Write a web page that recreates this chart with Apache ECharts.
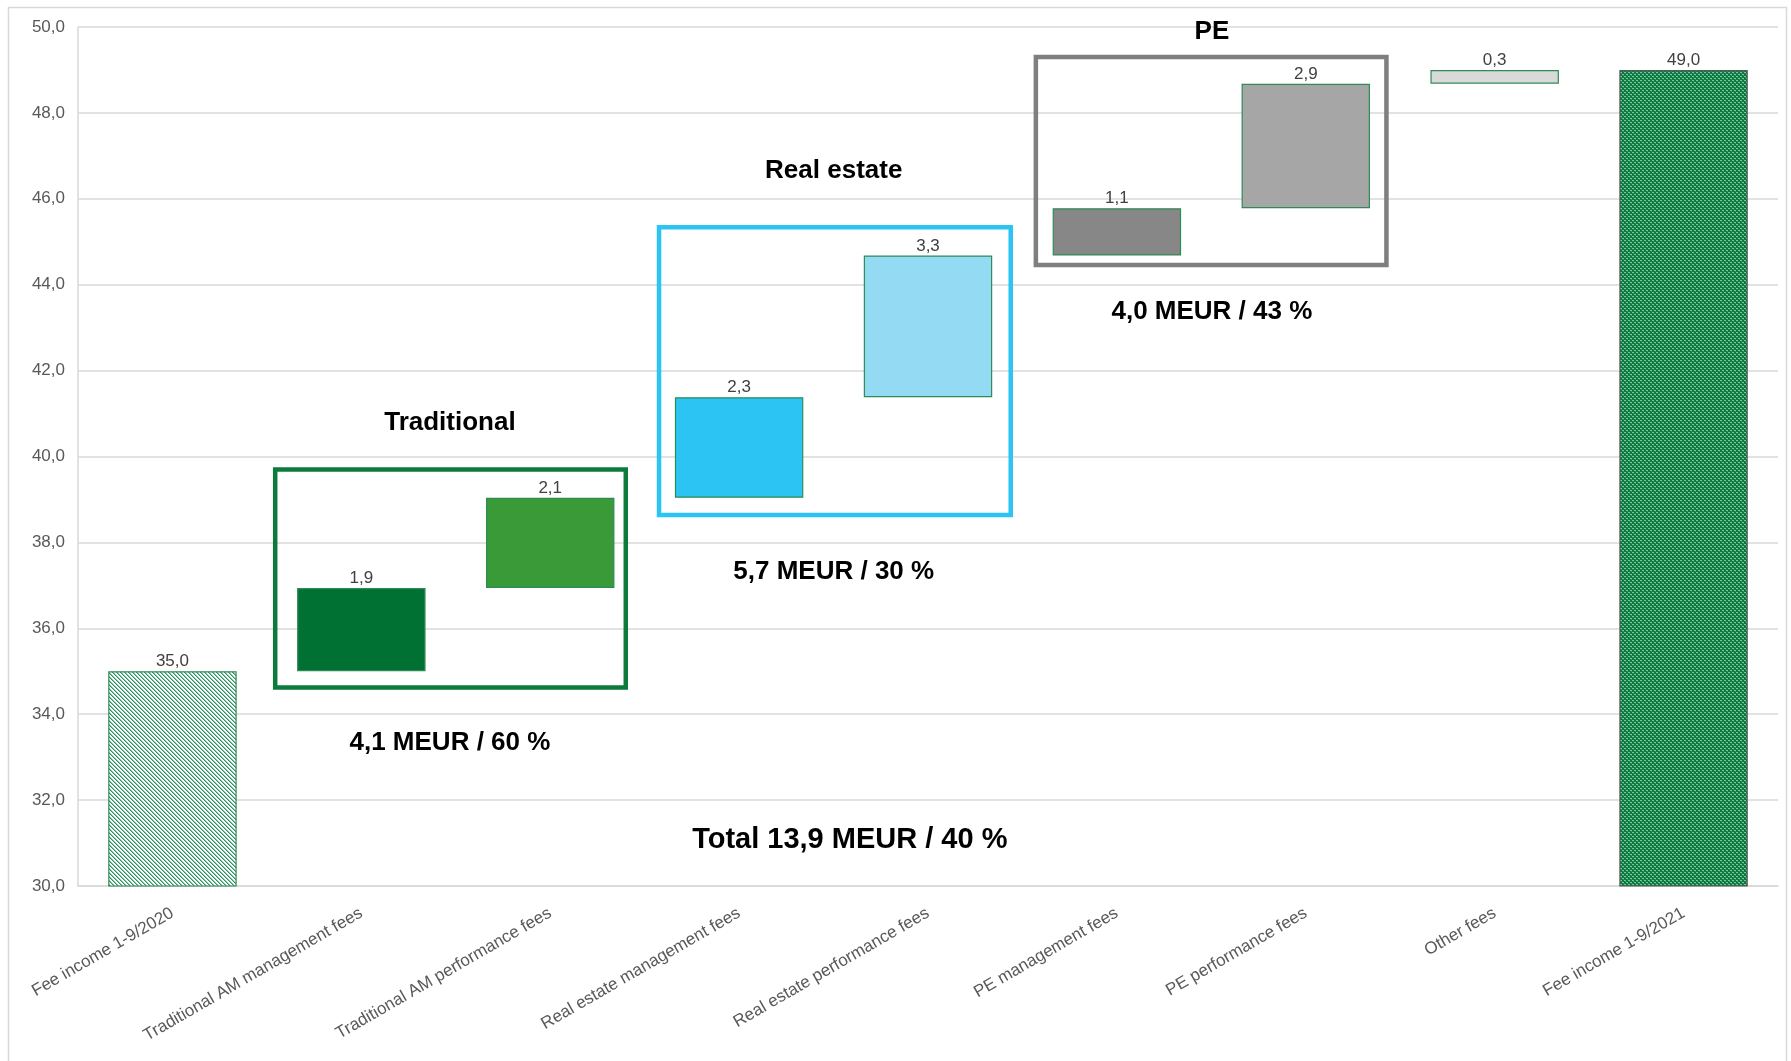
<!DOCTYPE html>
<html>
<head>
<meta charset="utf-8">
<script src="https://cdn.jsdelivr.net/npm/echarts@6/dist/echarts.min.js"></script>
<style>
html,body{margin:0;padding:0;background:#fff;}
#chart{width:1791px;height:1061px;}
</style>
</head>
<body>
<div id="chart"></div>
<script>
// ---- data ----
var categories = ["Fee income 1-9/2020","Traditional AM management fees","Traditional AM performance fees","Real estate management fees","Real estate performance fees","PE management fees","PE performance fees","Other fees","Fee income 1-9/2021"];
var startValue = 35.0;
var changes = [1.94, 2.10, 2.34, 3.30, 1.10, 2.90, 0.32];
var endValue = 49.0;
var barColors = ["pattern2020","#007033","#3A9A38","#2BC4F3","#94DAF3","#878787","#A6A6A6","#D9D9D9","pattern2021"];
var yTicks = {min:30, max:50, interval:2};
// group boxes: [x0, x1, yTop, yBottom] on a 0..9 category scale
var boxNames = ["Traditional","Real estate","PE"];
var boxRanges = [[1.044,2.900,39.70,34.62],[3.076,4.938,45.34,38.64],[5.071,6.927,49.30,44.46]];
var boxColors = ["#0B7A3B","#2BC4F3","#7F7F7F"];
var groupTitlePos = [[1.969,40.79],[4.001,46.64],[6.003,49.88]];
var groupSummaries = ["4,1 MEUR / 60 %","5,7 MEUR / 30 %","4,0 MEUR / 43 %"];
var groupSummaryPos = [[1.969,33.34],[4.001,37.31],[6.003,43.37]];
var totalText = "Total 13,9 MEUR / 40 %";
var totalPos = [4.086,31.08];

// ---- patterns ----
function makeDiag(){
  var c=document.createElement('canvas');c.width=4;c.height=4;
  var g=c.getContext('2d');
  g.fillStyle='#ffffff';g.fillRect(0,0,4,4);
  g.fillStyle='#2E9160';
  for(var i=0;i<4;i++){g.fillRect(i,i,1,1);}
  g.fillStyle='#8CC7A8';
  for(var j=0;j<4;j++){g.fillRect((j+1)%4,j,1,1);}
  return c;
}
function makeDots(){
  var c=document.createElement('canvas');c.width=4;c.height=4;
  var g=c.getContext('2d');
  g.fillStyle='#0A7A40';g.fillRect(0,0,4,4);
  g.fillStyle='#7FC39C';
  g.fillRect(0,0,2,1);g.fillRect(2,2,2,1);
  g.fillStyle='#2E9160';
  g.fillRect(1,1,1,1);g.fillRect(3,3,1,1);
  return c;
}
var patterns = {
  pattern2020:{image:makeDiag(),repeat:'repeat'},
  pattern2021:{image:makeDots(),repeat:'repeat'}
};

// ---- build waterfall ----
var baseData=[0], valData=[startValue], labelVals=[startValue];
var cum=startValue;
changes.forEach(function(d){baseData.push(cum);valData.push(d);labelVals.push(d);cum+=d;});
baseData.push(0);valData.push(endValue);labelVals.push(endValue);

function fmt(v){return v.toFixed(1).replace('.',',');}

var visible = valData.map(function(v,i){
  var col = barColors[i];
  var fill = patterns[col] ? patterns[col] : col;
  return {value:v, itemStyle:{color:fill, borderColor: i===8 ? '#5A5A5A' : '#2E8B57', borderWidth:1.2}};
});

var FONT = '"Liberation Sans", Arial, sans-serif';

var annotations = [];
boxNames.forEach(function(n,i){annotations.push({type:'box',r:boxRanges[i],c:boxColors[i]});});
boxNames.forEach(function(n,i){annotations.push({type:'text',t:n,p:groupTitlePos[i],s:26});});
groupSummaries.forEach(function(n,i){annotations.push({type:'text',t:n,p:groupSummaryPos[i],s:26});});
annotations.push({type:'text',t:totalText,p:totalPos,s:29});

var chart = echarts.init(document.getElementById('chart'),null,{renderer:'canvas'});
chart.setOption({
  animation:false,
  backgroundColor:'#ffffff',
  graphic:[{type:'rect',shape:{x:8.5,y:7.5,width:1778,height:1060},style:{fill:'none',stroke:'#D9D9D9',lineWidth:1.5},silent:true,z:-10}],
  grid:{left:78,right:13,top:27,bottom:175,containLabel:false},
  xAxis:[{
    type:'category',data:categories,
    axisLine:{show:true,lineStyle:{color:'#D9D9D9',width:1.5}},
    axisTick:{show:false},
    axisLabel:{rotate:30,interval:0,margin:26,color:'#595959',fontSize:17,fontFamily:FONT}
  },{
    type:'value',min:0,max:9,show:false
  }],
  yAxis:{
    type:'value',min:yTicks.min,max:yTicks.max,interval:yTicks.interval,
    axisLine:{show:true,lineStyle:{color:'#D9D9D9',width:1.5}},
    axisTick:{show:false},
    splitLine:{show:true,lineStyle:{color:'#D9D9D9',width:1.5}},
    axisLabel:{margin:13,color:'#595959',fontSize:17,fontFamily:FONT,formatter:function(v){return fmt(v);}}
  },
  series:[{
    type:'bar',stack:'wf',data:baseData,barCategoryGap:'32%',
    itemStyle:{color:'transparent',borderWidth:0},silent:true
  },{
    type:'bar',stack:'wf',data:visible,barCategoryGap:'32%',
    label:{show:true,position:'top',distance:1,color:'#404040',fontSize:17,fontFamily:FONT,
      formatter:function(p){return fmt(labelVals[p.dataIndex]);}}
  },{
    type:'custom',xAxisIndex:1,yAxisIndex:0,clip:false,z:10,
    data:annotations.map(function(a,i){return [i];}),
    renderItem:function(params,api){
      var a=annotations[params.dataIndex];
      if(a.type==='box'){
        var p0=api.coord([a.r[0],a.r[2]]), p1=api.coord([a.r[1],a.r[3]]);
        return {type:'rect',shape:{x:p0[0],y:p0[1],width:p1[0]-p0[0],height:p1[1]-p0[1]},
          style:{fill:'none',stroke:a.c,lineWidth:4.5}};
      }
      var p=api.coord(a.p);
      return {type:'text',x:p[0],y:p[1],style:{text:a.t,fill:'#000',font:'bold '+a.s+'px '+FONT,align:'center',verticalAlign:'middle'}};
    }
  }]
});
</script>
</body>
</html>
